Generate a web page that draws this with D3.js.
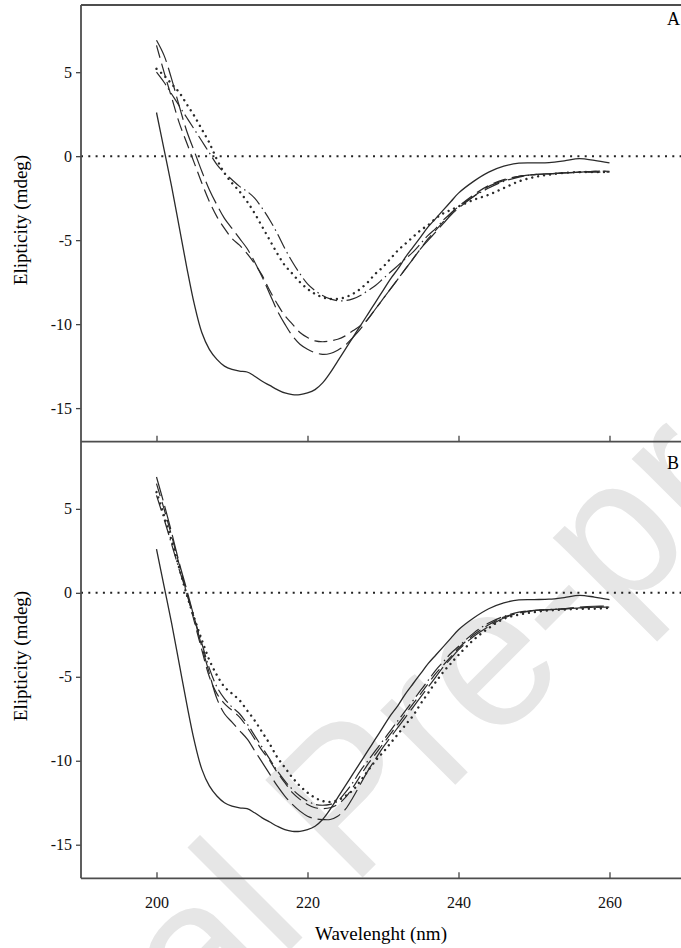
<!DOCTYPE html>
<html>
<head>
<meta charset="utf-8">
<script src="https://cdn.jsdelivr.net/npm/d3@7"></script>
<style>
  body { margin: 0; background: #fff; }
  svg { display: block; }
</style>
</head>
<body>
<div id="chart"></div>
<script>
// wavelength (nm)
var wl = [200, 201, 202, 203, 204, 205, 206, 207, 208, 209,
          210, 211, 212, 213, 214, 215, 216, 217, 218, 219,
          220, 221, 222, 223, 224, 225, 226, 227, 228, 229,
          230, 231, 232, 233, 234, 235, 236, 237, 238, 239,
          240, 242, 244, 246, 248, 250, 252, 254, 256, 258, 260];

// native protein, same trace in both panels
var native = [2.6, 0.4, -1.8, -4.2, -6.6, -8.8, -10.5, -11.5, -12.1, -12.5,
              -12.7, -12.8, -12.85, -13.1, -13.4, -13.65, -13.9, -14.1, -14.2, -14.2,
              -14.1, -13.9, -13.5, -12.9, -12.2, -11.5, -10.8, -10.1, -9.4, -8.7,
              -8.0, -7.3, -6.7, -6.0, -5.4, -4.8, -4.2, -3.7, -3.2, -2.7,
              -2.2, -1.5, -0.95, -0.6, -0.42, -0.4, -0.38, -0.28, -0.15, -0.25, -0.4];

// panel A
var aDot = [5.2, 4.8, 4.3, 3.8, 3.1, 2.4, 1.6, 0.8, -0.2, -1.0,
            -1.6, -2.1, -2.7, -3.4, -4.2, -5.0, -5.8, -6.5, -7.0, -7.5,
            -7.9, -8.2, -8.4, -8.5, -8.5, -8.4, -8.2, -7.9, -7.5, -7.0,
            -6.6, -6.1, -5.6, -5.2, -4.8, -4.4, -4.1, -3.7, -3.4, -3.2,
            -3.0, -2.6, -2.3, -1.9, -1.5, -1.25, -1.1, -1.0, -0.95, -0.95, -0.95];
var aDashDot = [5.0, 4.4, 3.7, 3.0, 2.3, 1.6, 0.9, 0.2, -0.5, -1.0,
                -1.4, -1.8, -2.1, -2.5, -3.1, -3.8, -4.6, -5.5, -6.3, -7.0,
                -7.6, -8.0, -8.3, -8.5, -8.6, -8.6, -8.5, -8.3, -8.0, -7.7,
                -7.3, -6.9, -6.5, -6.1, -5.7, -5.2, -4.7, -4.3, -3.8, -3.4,
                -3.0, -2.4, -1.9, -1.5, -1.25, -1.1, -1.05, -1.0, -0.95, -0.9, -0.9];
var aDash = [6.6, 5.0, 3.5, 2.0, 0.8, -0.4, -1.6, -2.7, -3.6, -4.3,
             -4.9, -5.3, -5.8, -6.4, -7.1, -8.0, -8.8, -9.5, -10.0, -10.5,
             -10.8, -11.0, -11.05, -11.0, -10.9, -10.7, -10.4, -10.1, -9.7, -9.1,
             -8.5, -7.9, -7.3, -6.7, -6.1, -5.5, -4.9, -4.4, -3.9, -3.4,
             -3.0, -2.3, -1.75, -1.4, -1.2, -1.1, -1.05, -1.0, -0.95, -0.95, -0.95];
var aLongDash = [6.9, 6.0, 4.6, 3.0, 1.5, 0.3, -0.9, -2.0, -2.9, -3.7,
                 -4.3, -4.9, -5.5, -6.3, -7.2, -8.2, -9.2, -10.0, -10.7, -11.2,
                 -11.5, -11.7, -11.8, -11.75, -11.55, -11.25, -10.8, -10.3, -9.7, -9.1,
                 -8.5, -7.9, -7.3, -6.7, -6.1, -5.5, -5.0, -4.5, -4.0, -3.5,
                 -3.1, -2.4, -1.8, -1.45, -1.2, -1.1, -1.05, -1.0, -0.95, -0.9, -0.9];

// panel B
var bDot = [6.0, 4.6, 3.1, 1.5, -0.1, -1.5, -2.8, -4.0, -4.9, -5.6,
            -6.0, -6.4, -7.0, -7.6, -8.3, -9.0, -9.8, -10.4, -11.0, -11.5,
            -11.9, -12.2, -12.4, -12.45, -12.35, -12.1, -11.75, -11.2, -10.6, -10.0,
            -9.5, -8.95, -8.4, -7.85, -7.3, -6.6, -5.95, -5.3, -4.7, -4.2,
            -3.7, -2.8, -2.1, -1.55, -1.3, -1.15, -1.05, -1.0, -0.95, -0.95, -0.9];
var bDashDot = [5.8, 4.4, 2.9, 1.4, 0.0, -1.5, -3.0, -4.5, -5.6, -6.3,
                -6.8, -7.2, -7.8, -8.5, -9.2, -9.9, -10.6, -11.2, -11.7, -12.1,
                -12.4, -12.6, -12.65, -12.6, -12.4, -11.9, -11.3, -10.6, -10.0, -9.4,
                -8.8, -8.2, -7.6, -7.0, -6.4, -5.8, -5.2, -4.6, -4.1, -3.6,
                -3.2, -2.4, -1.8, -1.4, -1.15, -1.05, -1.0, -0.95, -0.9, -0.85, -0.85];
var bDash = [6.5, 5.0, 3.4, 1.7, 0.0, -1.7, -3.4, -5.0, -6.0, -6.6,
             -7.0, -7.4, -8.0, -8.7, -9.4, -10.0, -10.7, -11.3, -11.9, -12.3,
             -12.6, -12.8, -12.85, -12.8, -12.6, -12.2, -11.6, -10.9, -10.2, -9.6,
             -9.0, -8.4, -7.8, -7.2, -6.6, -6.0, -5.4, -4.8, -4.3, -3.8,
             -3.3, -2.5, -1.9, -1.45, -1.2, -1.05, -1.0, -0.95, -0.9, -0.85, -0.85];
var bLongDash = [6.9, 5.3, 3.6, 1.8, 0.2, -1.5, -3.2, -4.8, -6.3, -7.2,
                 -7.7, -8.2, -8.7, -9.4, -10.1, -10.8, -11.5, -12.1, -12.6, -13.0,
                 -13.3, -13.45, -13.5, -13.5, -13.3, -12.9, -12.2, -11.4, -10.6, -9.9,
                 -9.2, -8.6, -8.0, -7.4, -6.8, -6.2, -5.6, -5.0, -4.4, -3.9,
                 -3.4, -2.6, -2.0, -1.5, -1.2, -1.05, -1.0, -0.95, -0.85, -0.8, -0.8];

var xTicks = [200, 220, 240, 260];
var yTicks = [-15, -10, -5, 0, 5];

var width = 681, height = 948;
var plotLeft = 81, plotTop = 5, plotMid = 441.7, plotBottom = 878.3;

var svg = d3.select("#chart")
    .append("svg")
    .attr("width", width)
    .attr("height", height);

// "Journal Pre-proof" watermark in the background
svg.append("text")
    .attr("transform", "translate(-152,1392) rotate(-45)")
    .text("Journal Pre-proof")
    .style("font-family", "Liberation Sans")
    .style("font-size", "200px")
    .style("fill", "#e6e6e6");

var x = d3.scaleLinear().domain([190, 270]).range([plotLeft, plotLeft + 604]);
var yA = d3.scaleLinear().domain([-17, 9]).range([plotMid, plotTop]);
var yB = d3.scaleLinear().domain([-17, 9]).range([plotBottom, plotMid]);

var styles = {
    solid: { dash: null, width: 1.3, cap: "butt" },
    dot: { dash: "0.01,6", width: 2.4, cap: "round" },
    dashdot: { dash: "16,4,1.5,4", width: 1.2, cap: "butt" },
    dash: { dash: "13,6", width: 1.2, cap: "butt" },
    longdash: { dash: "24,6", width: 1.2, cap: "butt" }
};

function panel(y, series, showXLabels) {
    var g = svg.append("g");

    // zero line
    g.append("line")
        .attr("x1", plotLeft).attr("x2", width)
        .attr("y1", y(0)).attr("y2", y(0))
        .style("stroke", "#222")
        .style("stroke-width", 2)
        .style("stroke-dasharray", "2,5.3");

    series.forEach(function (s) {
        var st = styles[s.style];
        var line = d3.line()
            .x(function (d, i) { return x(wl[i]); })
            .y(function (d) { return y(d); })
            .curve(d3.curveCatmullRom);
        g.append("path")
            .datum(s.values)
            .attr("d", line)
            .style("fill", "none")
            .style("stroke", "#2a2a2a")
            .style("stroke-width", st.width)
            .style("stroke-linecap", st.cap)
            .style("stroke-dasharray", st.dash);
    });

    // y axis, plain hyphen for minus
    var yAxis = d3.axisLeft(y).tickValues(yTicks).tickSize(5).tickPadding(4)
        .tickFormat(function (d) { return String(d); });
    var ya = g.append("g").attr("transform", "translate(" + plotLeft + ",0)").call(yAxis);
    ya.select(".domain").remove();
    ya.selectAll("line").style("stroke", "#444").style("stroke-width", 1.3);
    ya.selectAll("text")
        .style("font-family", "Liberation Serif")
        .style("font-size", "16px")
        .style("fill", "#111");

    // x axis, ticks point inward
    var xAxis = d3.axisBottom(x).tickValues(xTicks).tickSizeInner(-6).tickSizeOuter(0)
        .tickPadding(18);
    var xa = g.append("g").attr("transform", "translate(0," + y.range()[0] + ")").call(xAxis);
    xa.select(".domain").remove();
    xa.selectAll("line").style("stroke", "#444").style("stroke-width", 1.3);
    if (showXLabels) {
        xa.selectAll("text")
            .style("font-family", "Liberation Serif")
            .style("font-size", "16px")
            .style("fill", "#111");
    } else {
        xa.selectAll("text").remove();
    }
}

panel(yA, [
    { values: native, style: "solid" },
    { values: aDot, style: "dot" },
    { values: aDashDot, style: "dashdot" },
    { values: aDash, style: "dash" },
    { values: aLongDash, style: "longdash" }
], false);

panel(yB, [
    { values: native, style: "solid" },
    { values: bDot, style: "dot" },
    { values: bDashDot, style: "dashdot" },
    { values: bDash, style: "dash" },
    { values: bLongDash, style: "longdash" }
], true);

// frame: left, top, separator, bottom (the right side runs off the picture)
var frame = svg.append("g")
    .style("stroke", "#4d4d4d")
    .style("stroke-width", 1.8);
frame.append("line").attr("x1", plotLeft).attr("x2", plotLeft).attr("y1", plotTop).attr("y2", plotBottom);
frame.append("line").attr("x1", plotLeft).attr("x2", width).attr("y1", plotTop).attr("y2", plotTop);
frame.append("line").attr("x1", plotLeft).attr("x2", width).attr("y1", plotMid).attr("y2", plotMid);
frame.append("line").attr("x1", plotLeft).attr("x2", width).attr("y1", plotBottom).attr("y2", plotBottom);

// panel letters
svg.append("text").attr("x", 667).attr("y", 25).text("A")
    .style("font-family", "Liberation Serif").style("font-size", "18px");
svg.append("text").attr("x", 667).attr("y", 469).text("B")
    .style("font-family", "Liberation Serif").style("font-size", "18px");

// axis titles
svg.append("text")
    .attr("transform", "translate(27,220) rotate(-90)")
    .attr("text-anchor", "middle")
    .text("Elipticity (mdeg)")
    .style("font-family", "Liberation Serif")
    .style("font-size", "19px");

svg.append("text")
    .attr("transform", "translate(27,656) rotate(-90)")
    .attr("text-anchor", "middle")
    .text("Elipticity (mdeg)")
    .style("font-family", "Liberation Serif")
    .style("font-size", "19px");

svg.append("text")
    .attr("x", 381)
    .attr("y", 940)
    .attr("text-anchor", "middle")
    .text("Wavelenght (nm)")
    .style("font-family", "Liberation Serif")
    .style("font-size", "19px");
</script>
</body>
</html>
